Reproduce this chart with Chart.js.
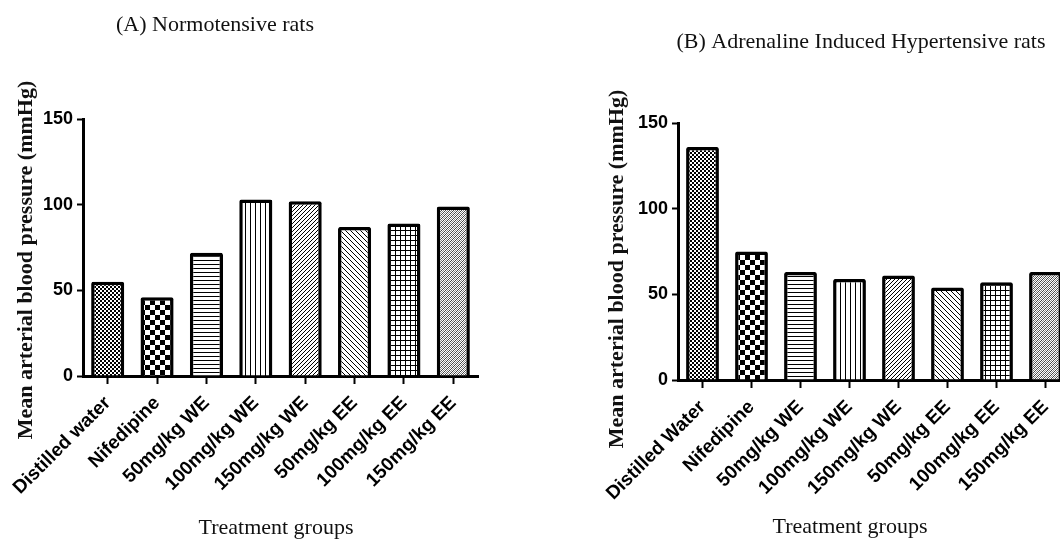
<!DOCTYPE html>
<html>
<head>
<meta charset="utf-8">
<script src="https://cdn.jsdelivr.net/npm/chart.js@4"></script>
<style>
  html, body { margin: 0; padding: 0; background: #fff; overflow: hidden; width: 1060px; height: 539px; }
  canvas { position: absolute; top: 0; }
  #chartA { left: 0; }
  #chartB { left: 530px; }
</style>
</head>
<body>
<canvas id="chartA" width="530" height="539"></canvas>
<canvas id="chartB" width="590" height="539"></canvas>
<script>
const groupsA = ['Distilled water', 'Nifedipine', '50mg/kg WE', '100mg/kg WE', '150mg/kg WE', '50mg/kg EE', '100mg/kg EE', '150mg/kg EE'];
const groupsB = ['Distilled Water', 'Nifedipine', '50mg/kg WE', '100mg/kg WE', '150mg/kg WE', '50mg/kg EE', '100mg/kg EE', '150mg/kg EE'];
const pressureA = [55, 46, 72, 103, 102, 87, 89, 99];
const pressureB = [136, 75, 63, 59, 61, 54, 57, 63];
const yTicks = [0, 50, 100, 150];

const titleA = '(A) Normotensive rats';
const titleB = '(B) Adrenaline Induced Hypertensive rats';
const yTitle = 'Mean arterial blood pressure (mmHg)';
const xTitle = 'Treatment groups';

// fill patterns, one per treatment group
function makePattern(size, draw) {
    const c = document.createElement('canvas');
    c.width = size;
    c.height = size;
    const g = c.getContext('2d');
    g.fillStyle = '#fff';
    g.fillRect(0, 0, size, size);
    g.fillStyle = '#000';
    draw(g, size);
    return g.createPattern(c, 'repeat');
}

const patterns = [
    makePattern(4, g => { g.fillRect(0, 0, 2, 2); g.fillRect(2, 2, 2, 2); }),
    makePattern(10, g => { g.fillRect(0, 0, 5, 5); g.fillRect(5, 5, 5, 5); }),
    makePattern(4, g => g.fillRect(0, 0, 4, 1)),
    makePattern(5, g => g.fillRect(0, 0, 1, 5)),
    makePattern(4, (g, s) => { for (let i = 0; i < s; i++) g.fillRect(i, s - 1 - i, 1, 1); }),
    makePattern(5, (g, s) => { for (let i = 0; i < s; i++) g.fillRect(i, i, 1, 1); }),
    makePattern(5, g => { g.fillRect(0, 0, 5, 1); g.fillRect(0, 0, 1, 5); }),
    makePattern(4, (g, s) => {
        g.fillStyle = '#444';
        for (let i = 0; i < s; i++) g.fillRect(i, s - 1 - i, 1, 1);
        g.fillStyle = '#888';
        for (let i = 0; i < s; i++) g.fillRect((i + 2) % s, s - 1 - i, 1, 1);
    })
];

// free text: panel title and axis titles
const panelText = {
    id: 'panelText',
    afterDraw(chart, args, opts) {
        const ctx = chart.ctx;
        ctx.save();
        ctx.fillStyle = '#111';
        ctx.textAlign = 'center';
        ctx.textBaseline = 'middle';
        (opts.items || []).forEach(item => {
            ctx.save();
            ctx.font = item.font;
            ctx.translate(item.x, item.y);
            if (item.rotate) ctx.rotate(item.rotate);
            ctx.fillText(item.text, 0, 0);
            ctx.restore();
        });
        ctx.restore();
    }
};

function makeChart(id, labels, values, layout, items) {
    return new Chart(document.getElementById(id), {
        type: 'bar',
        plugins: [panelText],
        data: {
            labels: labels,
            datasets: [{
                data: values,
                backgroundColor: patterns,
                borderColor: '#000',
                borderWidth: 3.5,
                borderRadius: 2,
                borderSkipped: 'bottom',
                categoryPercentage: 1,
                barPercentage: 0.67
            }]
        },
        options: {
            responsive: false,
            animation: false,
            layout: { padding: layout.padding },
            plugins: {
                legend: { display: false },
                tooltip: { enabled: false },
                panelText: { items: items }
            },
            scales: {
                x: {
                    afterFit: s => { s.height = layout.xHeight; },
                    grid: { offset: false, drawOnChartArea: false, drawTicks: true, tickLength: 8, tickWidth: 2, tickColor: '#000' },
                    border: { display: true, color: '#000', width: 3 },
                    ticks: {
                        color: '#000',
                        minRotation: 45,
                        maxRotation: 45,
                        padding: 8,
                        autoSkip: false,
                        font: { family: 'Liberation Sans, Arial', size: 19, weight: 'bold' }
                    }
                },
                y: {
                    min: 0,
                    max: 150,
                    afterFit: s => { s.width = layout.yWidth; },
                    afterBuildTicks: s => { s.ticks = yTicks.map(v => ({ value: v })); },
                    grid: { drawOnChartArea: false, drawTicks: true, tickLength: 6, tickWidth: 2, tickColor: '#000' },
                    border: { display: true, color: '#000', width: 3 },
                    ticks: {
                        color: '#000',
                        padding: 4,
                        font: { family: 'Liberation Sans, Arial', size: 18, weight: 'bold' }
                    }
                }
            }
        }
    });
}

const serif = 'Liberation Serif, Times New Roman, serif';

makeChart('chartA', groupsA, pressureA,
    { padding: { left: 0, top: 119, right: 52, bottom: 0 }, yWidth: 83, xHeight: 163 },
    [
        { text: titleA, x: 215, y: 25, font: '22px ' + serif },
        { text: yTitle, x: 26, y: 260, rotate: -Math.PI / 2, font: 'bold 22px ' + serif },
        { text: xTitle, x: 276, y: 528, font: '22px ' + serif }
    ]);

makeChart('chartB', groupsB, pressureB,
    { padding: { left: 0, top: 123, right: 50, bottom: 0 }, yWidth: 148, xHeight: 159 },
    [
        { text: titleB, x: 331, y: 42, font: '22px ' + serif },
        { text: yTitle, x: 87, y: 269, rotate: -Math.PI / 2, font: 'bold 22px ' + serif },
        { text: xTitle, x: 320, y: 527, font: '22px ' + serif }
    ]);
</script>
</body>
</html>
